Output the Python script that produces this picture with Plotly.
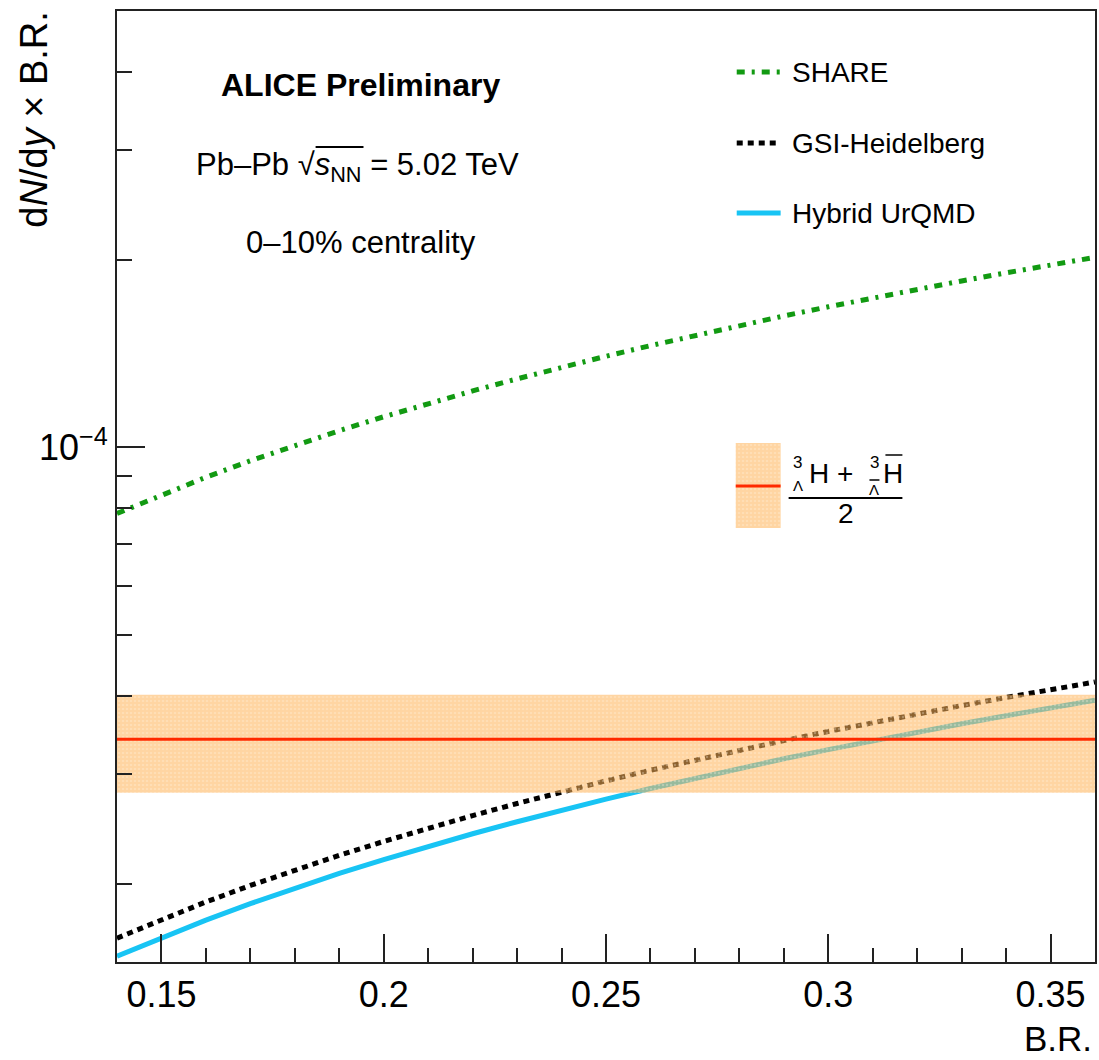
import math
import plotly.graph_objects as go

# ---- data -------------------------------------------------------------
br = [0.14, 0.15, 0.16, 0.17, 0.18, 0.19, 0.20, 0.21, 0.22, 0.23, 0.24, 0.25,
      0.26, 0.27, 0.28, 0.29, 0.30, 0.31, 0.32, 0.33, 0.34, 0.35, 0.36]
share = [7.84e-5, 8.40e-5, 8.96e-5, 9.52e-5, 1.008e-4, 1.064e-4, 1.12e-4,
         1.176e-4, 1.232e-4, 1.288e-4, 1.344e-4, 1.40e-4, 1.456e-4, 1.512e-4,
         1.568e-4, 1.624e-4, 1.68e-4, 1.736e-4, 1.792e-4, 1.848e-4, 1.904e-4,
         1.96e-4, 2.016e-4]
gsi = [1.638e-5, 1.755e-5, 1.872e-5, 1.989e-5, 2.106e-5, 2.223e-5, 2.34e-5,
       2.457e-5, 2.574e-5, 2.691e-5, 2.808e-5, 2.925e-5, 3.042e-5, 3.159e-5,
       3.276e-5, 3.393e-5, 3.51e-5, 3.627e-5, 3.744e-5, 3.861e-5, 3.978e-5,
       4.095e-5, 4.212e-5]
urqmd = [1.532e-5, 1.641e-5, 1.750e-5, 1.860e-5, 1.969e-5, 2.079e-5, 2.188e-5,
         2.297e-5, 2.407e-5, 2.516e-5, 2.626e-5, 2.735e-5, 2.844e-5, 2.954e-5,
         3.063e-5, 3.173e-5, 3.282e-5, 3.391e-5, 3.501e-5, 3.610e-5, 3.720e-5,
         3.829e-5, 3.938e-5]

band_x = [0.14, 0.36]
hyp_mean = 3.41e-5
hyp_low = 2.80e-5
hyp_high = 4.02e-5

x_major = [0.15, 0.20, 0.25, 0.30, 0.35]
x_major_text = ["0.15", "0.2", "0.25", "0.3", "0.35"]
x_minor = [0.16, 0.17, 0.18, 0.19, 0.21, 0.22, 0.23, 0.24, 0.26, 0.27,
           0.28, 0.29, 0.31, 0.32, 0.33, 0.34]
y_major = [1e-4]
y_major_text = ["10<sup>−4</sup>"]
y_minor = [2e-5, 3e-5, 4e-5, 5e-5, 6e-5, 7e-5, 8e-5, 9e-5, 2e-4, 3e-4, 4e-4]
y_range = [1.5e-5, 5e-4]

# ---- page geometry ----------------------------------------------------
W, H = 1099, 1060
L, R, T, B = 117, 2, 11, 98
PW, PH = W - L - R, H - T - B
FONT = "Liberation Sans, Arial, Helvetica, sans-serif"
FRAME = "#222222"


def fx(px):
    return (px - L) / PW


def fy(py):
    return (H - B - py) / PH


GREEN = "#129a12"
CYAN = "#18c4f4"
RED = "#ff2a00"
BAND_BG = "rgba(255,178,85,0.55)"
band_pattern = dict(shape=".", bgcolor=BAND_BG,
                    fgcolor="rgba(255,245,225,0.6)", size=4, solidity=0.3)

share_dash = "8px,7px,3px,7px"
gsi_dash = "6px,5px"

fig = go.Figure()

fig.add_trace(go.Scatter(x=br, y=share, mode="lines",
                         line=dict(color=GREEN, width=5, dash=share_dash)))
fig.add_trace(go.Scatter(x=br, y=gsi, mode="lines",
                         line=dict(color="black", width=5, dash=gsi_dash)))
fig.add_trace(go.Scatter(x=br, y=urqmd, mode="lines",
                         line=dict(color=CYAN, width=5)))

# measured yield: systematic band and central value
fig.add_trace(go.Scatter(
    x=[band_x[0], band_x[1], band_x[1], band_x[0], band_x[0]],
    y=[hyp_low, hyp_low, hyp_high, hyp_high, hyp_low],
    mode="lines", line=dict(width=0), fill="toself",
    fillcolor=BAND_BG, fillpattern=band_pattern))
fig.add_trace(go.Scatter(x=band_x, y=[hyp_mean, hyp_mean], mode="lines",
                         line=dict(color=RED, width=3)))


# ---- legend samples on an overlay frame (0..1 in both directions) ----
def leg_line(y_px, color, dash):
    fig.add_trace(go.Scatter(x=[fx(738), fx(782)], y=[fy(y_px), fy(y_px)],
                             xaxis="x2", yaxis="y2", mode="lines",
                             line=dict(color=color, width=5, dash=dash)))


leg_line(72, GREEN, share_dash)
leg_line(143, "black", gsi_dash)
leg_line(213, CYAN, "solid")

fig.add_trace(go.Scatter(
    x=[fx(737), fx(782), fx(782), fx(737), fx(737)],
    y=[fy(528), fy(528), fy(443), fy(443), fy(528)],
    xaxis="x2", yaxis="y2", mode="lines", line=dict(width=0),
    fill="toself", fillcolor=BAND_BG, fillpattern=band_pattern))
fig.add_trace(go.Scatter(x=[fx(737), fx(782)], y=[fy(486), fy(486)],
                         xaxis="x2", yaxis="y2", mode="lines",
                         line=dict(color=RED, width=3)))

# ---- text ----------------------------------------------------------
ann = []


def txt(x_px, y_px, text, size, xanchor="center", yanchor="middle", **kw):
    ann.append(dict(x=fx(x_px), y=fy(y_px), xref="paper", yref="paper",
                    text=text, showarrow=False, xanchor=xanchor,
                    yanchor=yanchor, font=dict(family=FONT, size=size,
                                               color="black"), **kw))


txt(361, 85, "<b>ALICE Preliminary</b>", 32)
txt(358, 167, "Pb–Pb √<i>s</i><sub>NN</sub> = 5.02 TeV", 31)
txt(361, 242, "0–10% centrality", 31)

txt(791, 72, "SHARE", 28, xanchor="left")
txt(791, 143, "GSI-Heidelberg", 28, xanchor="left")
txt(791, 213, "Hybrid UrQMD", 28, xanchor="left")

# (³ΛH + ³ΛH̄)/2 built piece by piece
txt(799, 462, "3", 17)
txt(799, 485, "Λ", 15)
txt(820, 473, "H", 28)
txt(846, 473, "+", 28)
txt(876, 462, "3", 17)
txt(876, 489, "Λ", 15)
txt(895, 473, "H", 28)
txt(847, 513, "2", 28)

# axis titles
txt(33, 9, "d<i>N</i>/d<i>y</i> × B.R.", 38, yanchor="top", textangle=-90)
txt(1095, 1059, "B.R.", 35, xanchor="right", yanchor="bottom", borderpad=0)

shapes = [
    # overline of the square root
    dict(type="line", xref="paper", yref="paper", x0=fx(316), x1=fx(364),
         y0=fy(147), y1=fy(147), line=dict(color="black", width=2)),
    # fraction bar
    dict(type="line", xref="paper", yref="paper", x0=fx(790), x1=fx(904),
         y0=fy(498), y1=fy(498), line=dict(color="black", width=2)),
    # anti-particle bars
    dict(type="line", xref="paper", yref="paper", x0=fx(871), x1=fx(881),
         y0=fy(480), y1=fy(480), line=dict(color="black", width=1.5)),
    dict(type="line", xref="paper", yref="paper", x0=fx(887), x1=fx(904),
         y0=fy(455), y1=fy(455), line=dict(color="black", width=1.5)),
]

axis_common = dict(showline=True, linecolor=FRAME, linewidth=2, mirror=True,
                   ticks="inside", ticklen=28, tickwidth=2, tickcolor=FRAME,
                   showgrid=False, zeroline=False,
                   tickfont=dict(family=FONT, size=36, color="black"))

fig.update_layout(
    width=W, height=H, margin=dict(l=L, r=R, t=T, b=B),
    paper_bgcolor="white", plot_bgcolor="white", showlegend=False,
    xaxis=dict(range=band_x, tickmode="array", tickvals=x_major,
               ticktext=x_major_text,
               minor=dict(tickmode="array", tickvals=x_minor, ticks="inside",
                          ticklen=14, tickwidth=2, tickcolor=FRAME,
                          showgrid=False),
               **axis_common),
    yaxis=dict(type="log",
               range=[math.log10(y_range[0]), math.log10(y_range[1])],
               tickmode="array", tickvals=y_major, ticktext=y_major_text,
               minor=dict(tickmode="array", tickvals=y_minor, ticks="inside",
                          ticklen=15, tickwidth=2, tickcolor=FRAME,
                          showgrid=False),
               **axis_common),
    xaxis2=dict(overlaying="x", anchor="y2", range=[0, 1], visible=False),
    yaxis2=dict(overlaying="y", anchor="x2", range=[0, 1], visible=False),
    annotations=ann, shapes=shapes,
)

fig.write_html("out.html")
